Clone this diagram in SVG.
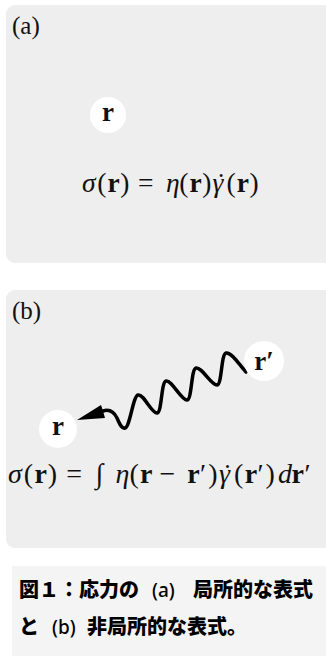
<svg xmlns="http://www.w3.org/2000/svg" width="326" height="656" viewBox="0 0 326 656">
<style>
.panel{fill:#eeeeee}
.cap-box{fill:#f4f4f4}
.node{fill:#ffffff}
.lbl{font-family:"Liberation Serif","Times New Roman",serif;font-size:25px;fill:#111}
.eq{font-family:"Liberation Serif","Times New Roman",serif;fill:#111}
.ea{font-size:27.5px}
.eb{font-size:28px}
.i{font-style:italic}
.b{font-weight:bold}
.nl{font-family:"Liberation Serif","Times New Roman",serif;font-size:27px;font-weight:bold;fill:#111;text-anchor:middle}
.cap{font-family:"Noto Sans CJK JP","Noto Sans",sans-serif;font-size:20px;font-weight:900;fill:#000}
.capl{font-family:"Noto Sans","Liberation Sans",sans-serif;font-size:19px;font-weight:500;fill:#000}
.wave{fill:none;stroke:#000;stroke-width:3.5;stroke-linecap:round;stroke-linejoin:round}
</style>
<rect width="326" height="656" fill="#ffffff"/>
<g id="panel-a">
<rect class="panel" x="6" y="5" width="340" height="258" rx="9"/>
<text class="lbl" x="12" y="34">(a)</text>
<text class="eq ea" y="192"><tspan class="i" x="82">σ</tspan><tspan x="97.2">(</tspan><tspan class="b" x="107.5">r</tspan><tspan x="120.3">)</tspan><tspan x="138">=</tspan><tspan class="i" x="166.1">η</tspan><tspan x="179.3">(</tspan><tspan class="b" x="189.6">r</tspan><tspan x="202.3">)</tspan><tspan class="i" x="212.6">γ</tspan><tspan x="216.5">˙</tspan><tspan x="226.4">(</tspan><tspan class="b" x="236.7">r</tspan><tspan x="249.4">)</tspan></text>
</g>
<g id="node-r-a">
<circle class="node" cx="108" cy="115" r="18"/>
<text class="nl" x="108" y="121">r</text>
</g>
<g id="panel-b">
<rect class="panel" x="6" y="290" width="340" height="258" rx="9"/>
<text class="lbl" x="12" y="319">(b)</text>
<text class="eq eb" y="483"><tspan class="i" x="8">σ</tspan><tspan x="23.8">(</tspan><tspan class="b" x="34.6">r</tspan><tspan x="47.8">)</tspan><tspan x="66.3">=</tspan><tspan x="95.6">∫</tspan><tspan class="i" x="115.6">η</tspan><tspan x="129.4">(</tspan><tspan class="b" x="140.1">r</tspan><tspan x="159.6">−</tspan><tspan class="b" x="187.3">r</tspan><tspan x="200">′</tspan><tspan x="208.2">)</tspan><tspan class="i" x="218.9">γ</tspan><tspan x="222.8">˙</tspan><tspan x="234">(</tspan><tspan class="b" x="244.8">r</tspan><tspan x="257.5">′</tspan><tspan x="265.6">)</tspan><tspan class="i" x="278">d</tspan><tspan class="b" x="291.5">r</tspan><tspan x="304.5">′</tspan></text>
</g>
<g id="connectors">
<path class="wave" d="M103,411 C109,409 114,412 117,418 C120,425 122,429 125,428 C130,427 133,396 138,395 C144,394 151,413 157,413 C162,413 161,382 166,381 C172,380 181,400 187,400 C192,400 191,369 196,368 C202,367 211,385 217,385 C222,385 221,354 226,353 C232,352 240,366 246,372"/>
<polygon points="77,420 101,405 103,411 105,418" fill="#000"/>
</g>
<g id="node-r-b">
<circle class="node" cx="58" cy="429" r="19"/>
<text class="nl" x="58" y="435">r</text>
</g>
<g id="node-rprime">
<circle class="node" cx="264" cy="361" r="20"/>
<text class="nl" x="264" y="370">r′</text>
</g>
<g id="caption">
<rect class="cap-box" x="12" y="566" width="320" height="95"/>
<text x="19" y="597"><tspan class="cap">図１：応力の</tspan><tspan class="capl" x="152">(a)</tspan><tspan class="cap" x="193">局所的な表式</tspan></text>
<text x="19" y="634"><tspan class="cap">と</tspan><tspan class="capl" x="52">(b)</tspan><tspan class="cap" x="87">非局所的な表式。</tspan></text>
</g>
</svg>
